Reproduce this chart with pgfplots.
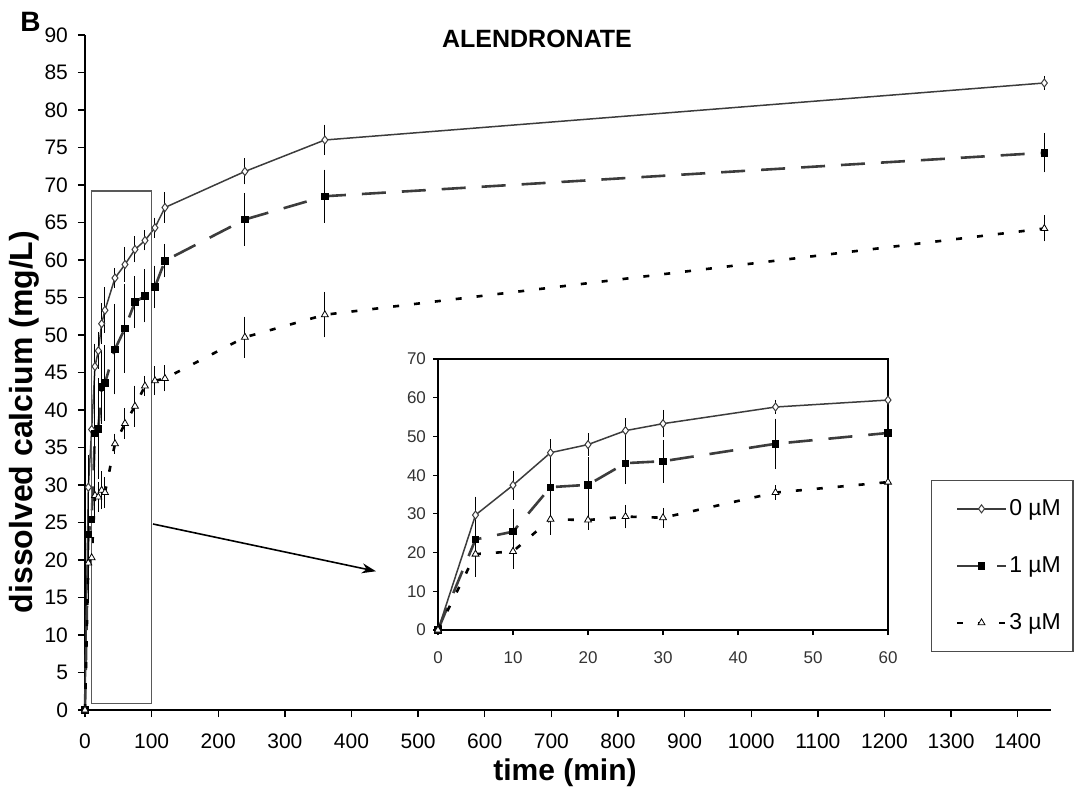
\documentclass[border=0pt]{standalone}
\usepackage{pgfplots}
\pgfplotsset{compat=1.18}
\usepackage{pgfplotstable}
\usepackage{fontspec}
\setmainfont{Liberation Sans}
\usetikzlibrary{arrows.meta}

\definecolor{lgray}{HTML}{3C3C3C}

\pgfplotstableread{
t y e
0 0 0
5 29.7 3.7
10 37.4 2.7
15 45.8 2.5
20 47.9 1.9
25 51.5 2.2
30 53.3 2.5
45 57.6 0.8
60 59.4 1.8
75 61.4 1.2
90 62.6 0.8
105 64.3 0.8
120 67.0 1.5
240 71.8 1.2
360 76.0 1.5
1440 83.6 0.4
}\zero

\pgfplotstableread{
t y e
0 0 0
5 23.4 4.0
10 25.4 4.8
15 36.9 6.0
20 37.5 6.2
25 43.1 4.4
30 43.6 4.5
45 48.1 5.5
60 50.9 5.4
75 54.4 2.9
90 55.2 3.0
105 56.4 2.3
120 59.9 1.7
240 65.4 3.0
360 68.5 3.0
1440 74.3 2.1
}\one

\pgfplotstableread{
t y e
0 0 0
5 19.6 4.8
10 20.3 3.5
15 28.6 3.0
20 28.4 1.5
25 29.3 2.0
30 29.0 1.5
45 35.5 0.8
60 38.2 1.5
75 40.5 2.2
90 43.2 0.8
105 43.9 1.4
120 44.2 1.2
240 49.7 2.2
360 52.7 2.5
1440 64.2 1.2
}\three

\pgfplotsset{
  zerostyle/.style={color=lgray, line width=0.75pt, solid, mark=diamond*, mark size=2pt,
    mark options={solid, fill=white, draw=lgray, line width=0.5pt}},
  onestyle/.style={color=lgray, line width=1.3pt, dash pattern=on 12pt off 8pt, mark=square*, mark size=1.6pt,
    mark options={solid, fill=black, draw=black, line width=0.4pt}},
  threestyle/.style={color=black, line width=1.3pt, dash pattern=on 3pt off 7.5pt, mark=triangle*, mark size=2pt,
    mark options={solid, fill=white, draw=black, line width=0.4pt}},
  ebars/.style={error bars/.cd, y dir=both, y explicit,
    error bar style={black, line width=0.5pt, solid},
    error mark options={black, mark size=2pt, line width=0.5pt, solid}, /pgfplots/.cd},
}

\begin{document}
\begin{tikzpicture}
\path[use as bounding box] (-42.5pt,-40.5pt) rectangle (497pt,355pt);
\begin{axis}[
  at={(0pt,0pt)}, anchor=south west,
  scale only axis, width=483pt, height=337.5pt,
  xmin=0, xmax=1450, ymin=0, ymax=90,
  axis lines*=left,
  axis line style={-, line width=0.9pt, black},
  xtick={0,100,...,1400}, ytick={0,5,...,90},
  tick align=outside, major tick length=3.5pt,
  tick style={black, line width=0.7pt},
  tick label style={font=\fontsize{10.5}{12}\selectfont},
  xticklabel style={yshift=-5pt},
  yticklabel style={xshift=-1.5pt},
  /pgf/number format/assume math mode=true,
  /pgf/number format/1000 sep={},
  scaled ticks=false,
  clip=false,
  legend style={at={(0.8758,0.0859)}, anchor=south west, draw=gray!60!black, line width=0.7pt,
    fill=white, inner xsep=6pt, inner ysep=0pt, row sep=0pt, column sep=1pt,
    nodes={minimum height=28.5pt, inner sep=0pt, font=\fontsize{11.5}{13}\selectfont}},
  legend cell align=left,
  legend image code/.code={\path (0pt,0pt); \draw[mark repeat=2, mark phase=2, #1] plot coordinates {(6pt,0pt) (18.25pt,0pt) (30.5pt,0pt)};},
]
\addplot[zerostyle, ebars] table[x=t, y=y, y error=e]{\zero};
\addlegendentry{0 µM}
\addplot[onestyle, ebars] table[x=t, y=y, y error=e]{\one};
\addlegendentry{1 µM}
\addplot[threestyle, ebars] table[x=t, y=y, y error=e]{\three};
\addlegendentry{3 µM}
\draw[gray!70!black, line width=0.6pt] (axis cs:10,0.9) rectangle (axis cs:100,69.2);
\draw[black, line width=0.8pt, -{Stealth[length=7pt, width=5pt]}] (axis cs:102,24.8) -- (axis cs:436.7,18.5);
\end{axis}

\begin{axis}[
  at={(176.5pt,40pt)}, anchor=south west,
  scale only axis, width=225pt, height=135.5pt,
  xmin=0, xmax=60, ymin=0, ymax=70,
  axis background/.style={fill=white},
  axis line style={line width=0.6pt, black},
  xtick={0,10,...,60}, ytick={0,10,...,70},
  xtick pos=bottom, ytick pos=left,
  tick align=outside, major tick length=2.5pt,
  tick style={black, line width=0.6pt},
  tick label style={font=\fontsize{8.5}{10}\selectfont, color=black!80},
  xticklabel style={yshift=-5pt},
  /pgf/number format/assume math mode=true,
  clip=false,
]
\addplot[restrict x to domain=0:60, zerostyle, ebars] table[x=t, y=y, y error=e]{\zero};
\addplot[restrict x to domain=0:60, onestyle, ebars] table[x=t, y=y, y error=e]{\one};
\addplot[restrict x to domain=0:60, threestyle, ebars] table[x=t, y=y, y error=e]{\three};
\end{axis}

\node[font=\bfseries\fontsize{12.5}{14}\selectfont, anchor=base, inner sep=0pt] at (226pt,331pt) {ALENDRONATE};
\node[font=\bfseries\fontsize{14}{16}\selectfont, anchor=base west, inner sep=0pt] at (-32.5pt,339pt) {B};
\node[font=\bfseries\fontsize{15}{18}\selectfont, anchor=base, inner sep=0pt] at (240pt,-35pt) {time (min)};
\node[font=\bfseries\fontsize{16}{18}\selectfont, anchor=base, inner sep=0pt, rotate=90] at (-26pt,144pt) {dissolved calcium (mg/L)};
\end{tikzpicture}
\end{document}
